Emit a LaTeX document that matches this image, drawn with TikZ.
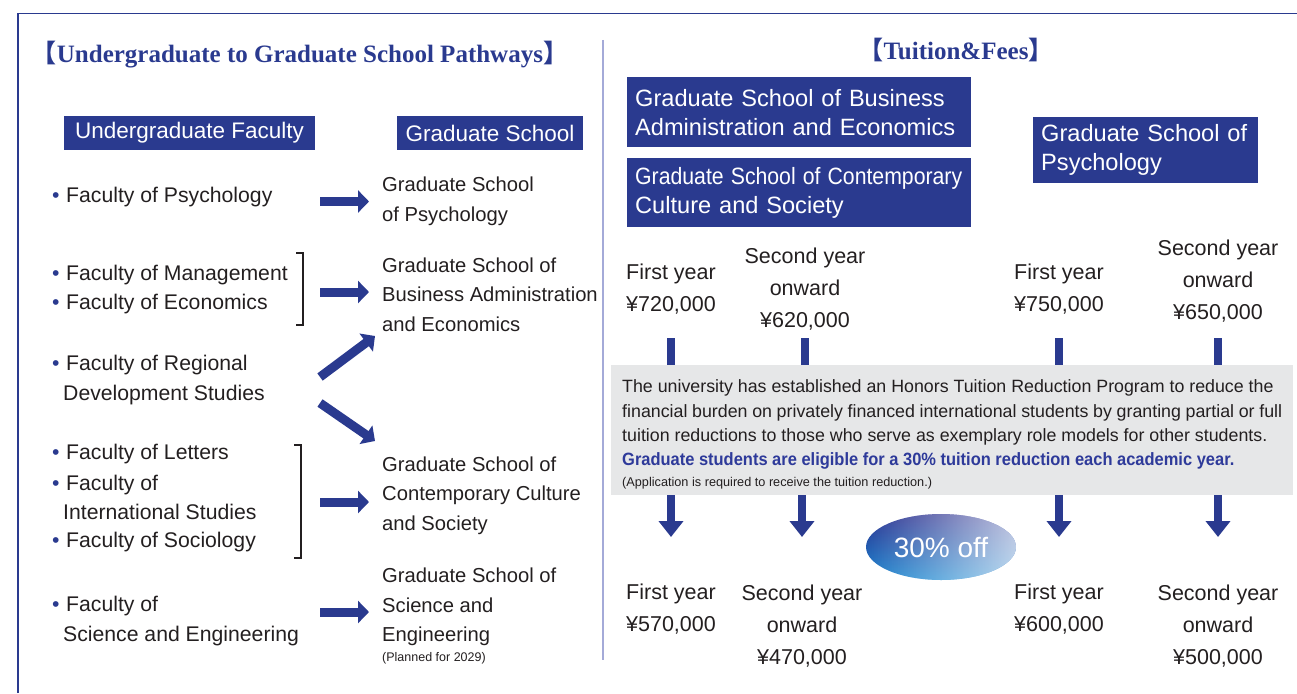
\documentclass[tikz,border=0pt]{standalone}
\usepackage{fontspec}
\setmainfont{Liberation Sans}
\newfontfamily\ttlfont{Liberation Serif}
\newfontfamily\brfont{Noto Sans CJK JP}
\usepackage{xcolor}
\definecolor{navy}{HTML}{2A3A8F}
\definecolor{ink}{HTML}{231F20}
\definecolor{bluet}{HTML}{2E3A9A}
\definecolor{divc}{HTML}{A4AAD8}
\definecolor{greyc}{HTML}{E6E7E8}
\definecolor{offtop}{HTML}{2B3190}
\definecolor{offbot}{HTML}{1A86D0}
\usetikzlibrary{arrows.meta,positioning,calc,shapes.geometric,fadings}
\tikzfading[name=lightr,left color=transparent!100,right color=transparent!0]
\newcommand{\bul}{\makebox[16pt][l]{\hspace{2pt}\color{navy}\textbullet}}
\newcommand{\ind}{\hspace*{13pt}}
\tikzset{
  hdr/.style={fill=navy,text=white,font=\fontsize{22.5}{29}\selectfont,inner sep=0pt,align=center},
  hdrb/.style={fill=navy,text=white,font=\fontsize{23.6}{29}\selectfont,inner xsep=8pt,inner ysep=4pt,align=left,anchor=north west},
  item/.style={anchor=west,inner sep=0pt,align=left,font=\fontsize{21.2}{29.5}\selectfont,text=ink},
  gitem/.style={item,font=\fontsize{20.2}{29.5}\selectfont},
  price/.style={inner sep=0pt,align=center,font=\fontsize{21.5}{32}\selectfont,text=ink},
  ttl/.style={text=navy,font=\ttlfont\bfseries\fontsize{25}{28}\selectfont,inner sep=0pt},
  note/.style={fill=greyc,anchor=north west,text=ink,align=left,font=\fontsize{17.8}{24.3}\selectfont,inner xsep=11pt,inner ysep=0pt,text width=660pt,minimum height=130pt},
  harr/.style={-{Triangle[length=11pt,width=22pt]},draw=navy,line width=9pt},
  vbar/.style={draw=navy,line width=8pt},
  varr/.style={-{Triangle[length=16pt,width=24pt]},draw=navy,line width=8pt},
  brk/.style={draw=ink,line width=2pt},
}
\begin{document}
\begin{tikzpicture}[x=1pt,y=-1pt]
\useasboundingbox (0,0) rectangle (1297,693);
% frame and divider
\draw[navy,line width=1.3pt] (18,693) -- (18,13.5) -- (1297,13.5);
\draw[divc,line width=1.5pt] (603,40) -- (603,660);

% titles
\node[ttl] (ttlL) at (300,55) {{\brfont\bfseries 【}Undergraduate to Graduate School Pathways{\brfont\bfseries 】}};
\node[ttl] (ttlR) at (956,50) {{\brfont\bfseries 【}Tuition\&Fees{\brfont\bfseries 】}};

% left: pathways
\node[hdr,minimum width=251pt,minimum height=34pt] (hUg) at (189.5,133) {Undergraduate Faculty};
\node[hdr,minimum width=186pt,minimum height=34pt] (hGs) at (490,133) {Graduate School};

\node[item] (fpsy) at (50,197) {\bul Faculty of Psychology};
\node[item] (fmgt) at (50,275) {\bul Faculty of Management};
\node[item] (fecn) at (50,304) {\bul Faculty of Economics};
\node[item] (freg) at (50,380) {\bul Faculty of Regional\\\ind Development Studies};
\node[item] (flet) at (50,454) {\bul Faculty of Letters};
\node[item] (fint) at (50,497.5) {\bul Faculty of\\\ind International Studies};
\node[item] (fsoc) at (50,542) {\bul Faculty of Sociology};
\node[item] (fsci) at (50,621) {\bul Faculty of\\\ind Science and Engineering};

\node[gitem] (gpsy) at (382,201.5) {Graduate School\\of Psychology};
\node[gitem] (gbus) at (382,294.5) {Graduate School of\\Business Administration\\and Economics};
\node[gitem] (gcon) at (382,495.5) {Graduate School of\\Contemporary Culture\\and Society};
\node[gitem] (gsci) at (382,607) {Graduate School of\\Science and\\Engineering};
\node[item,font=\fontsize{12.5}{14}\selectfont] (plan) at (382,658) {(Planned for 2029)};

\draw[brk] (296,253) -- (303,253) -- (303,325) -- (296,325);
\draw[brk] (294,445) -- (301,445) -- (301,558) -- (294,558);

\draw[harr] ([xshift=-62pt]gpsy.west) -- ([xshift=-13pt]gpsy.west);
\draw[harr] ([xshift=-62pt,yshift=2.5pt]gbus.west) -- ([xshift=-13pt,yshift=2.5pt]gbus.west);
\draw[harr] ([xshift=-62pt,yshift=-6.5pt]gcon.west) -- ([xshift=-13pt,yshift=-6.5pt]gcon.west);
\draw[harr] ([xshift=-62pt,yshift=-5pt]gsci.west) -- ([xshift=-13pt,yshift=-5pt]gsci.west);
\draw[harr] ([xshift=-62pt,yshift=-82.5pt]gbus.west) -- ([xshift=-7pt,yshift=-41.5pt]gbus.west);
\draw[harr] ([xshift=-62pt,yshift=92.5pt]gcon.west) -- ([xshift=-7pt,yshift=54.5pt]gcon.west);

% right: tuition
\node[hdrb,text width=328pt,minimum height=70pt] (bbus) at (627,77) {Graduate School of Business\\Administration and Economics};
\node[hdrb,text width=328pt,minimum height=69pt] (bcon) at (627,158) {\scalebox{0.9}[1]{Graduate School of Contemporary}\\Culture and Society};
\node[hdrb,text width=209pt,minimum height=66pt] (bpsy) at (1033,117) {Graduate School of\\Psychology};

\node[price] (p1) at (671,289) {First year\\¥720,000};
\node[price] (p2) at (805,289) {Second year\\onward\\¥620,000};
\node[price] (p3) at (1059,289) {First year\\¥750,000};
\node[price] (p4) at (1218,281) {Second year\\onward\\¥650,000};

\node[note] (note) at (611,365) {\spaceskip=0pt\xspaceskip=0pt\rule{0pt}{22pt}The university has established an Honors Tuition Reduction Program to reduce the\\
financial burden on privately financed international students by granting partial or full\\
tuition reductions to those who serve as exemplary role models for other students.\\
\scalebox{0.925}[1]{\bfseries\color{bluet}Graduate students are eligible for a 30\% tuition reduction each academic year.}\\[-3pt]
{\fontsize{12.7}{14}\selectfont (Application is required to receive the tuition reduction.)}};

\node[price] (q1) at (671,609.5) {First year\\¥570,000};
\node[price] (q2) at (802,626) {Second year\\onward\\¥470,000};
\node[price] (q3) at (1059,609.5) {First year\\¥600,000};
\node[price] (q4) at (1218,626) {Second year\\onward\\¥500,000};

\coordinate (bartop) at (0,338);
\coordinate (tipline) at (0,537);
\foreach \p in {p1,p2,p3,p4}
  \draw[vbar] (\p |- bartop) -- (\p |- note.north);
\foreach \q in {q1,q2,q3,q4}
  \draw[varr] (\q |- note.south) -- (\q |- tipline);

% 30% off badge
\shade[top color=offtop,bottom color=offbot] (941,547) ellipse (75 and 33);
\fill[white,path fading=lightr,fill opacity=0.7] (941,547) ellipse (75 and 33);
\node[text=white,font=\fontsize{28}{32}\selectfont,inner sep=0pt] (off) at (941,547) {30\% off};
\end{tikzpicture}
\end{document}
